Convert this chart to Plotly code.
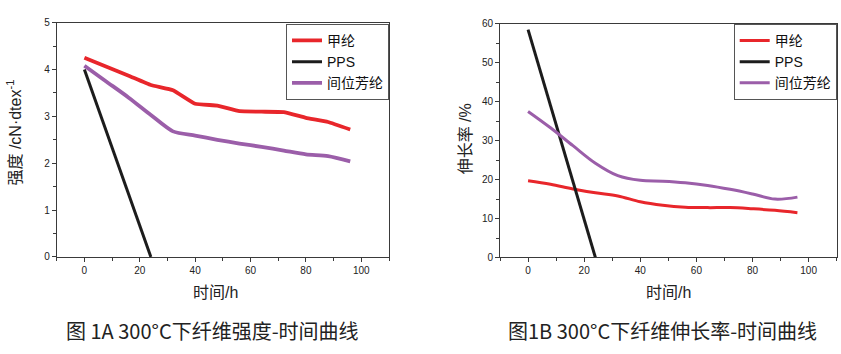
import plotly.graph_objects as go

W, H = 841, 354

hours = [0, 8, 16, 24, 32, 40, 48, 56, 64, 72, 80, 88, 96]
pps_hours = [0, 24]

names = ["甲纶", "PPS", "间位芳纶"]

# Figure 1A: strength (cN/dtex)
strength_nylon = [4.25, 4.06, 3.87, 3.67, 3.56, 3.27, 3.23, 3.11, 3.10, 3.09, 2.97, 2.88, 2.72]
strength_pps = [4.0, 0.0]
strength_aramid = [4.08, 3.74, 3.40, 3.03, 2.68, 2.59, 2.50, 2.42, 2.35, 2.27, 2.19, 2.15, 2.04]

# Figure 1B: elongation (%)
elong_nylon = [19.7, 18.8, 17.6, 16.6, 15.8, 14.3, 13.4, 12.9, 12.8, 12.8, 12.5, 12.1, 11.5]
elong_pps = [58.5, 0.0]
elong_aramid = [37.5, 33.3, 28.7, 24.2, 21.0, 19.8, 19.6, 19.2, 18.5, 17.5, 16.3, 15.0, 15.5]

RED = "#e8262b"
BLACK = "#1c1c1c"
PURPLE = "#9b5ea9"

fig = go.Figure()

def add(x, y, name, color, xa, ya, legend, width, shape="linear", smoothing=1.0):
    fig.add_trace(go.Scatter(
        x=x, y=y, name=name, mode="lines",
        line=dict(color=color, width=width, shape=shape, smoothing=smoothing),
        xaxis=xa, yaxis=ya, legend=legend,
    ))

add(hours, strength_nylon, names[0], RED, "x", "y", "legend", 3.8, "spline", 0.3)
add(pps_hours, strength_pps, names[1], BLACK, "x", "y", "legend", 3.0)
add(hours, strength_aramid, names[2], PURPLE, "x", "y", "legend", 3.8, "spline", 0.7)

add(hours, elong_nylon, names[0], RED, "x2", "y2", "legend2", 3.0, "spline", 1.0)
add(pps_hours, elong_pps, names[1], BLACK, "x2", "y2", "legend2", 3.0)
add(hours, elong_aramid, names[2], PURPLE, "x2", "y2", "legend2", 3.0, "spline", 1.0)

def px_x(p):
    return p / W

def px_y(p):
    return 1 - p / H

axis_common = dict(
    showline=True, mirror=True, linecolor="#3a3a3a", linewidth=1,
    ticks="outside", ticklen=4, tickcolor="#3a3a3a", tickwidth=1,
    showgrid=False, zeroline=False,
    tickfont=dict(family="Liberation Sans, Arial", size=10, color="#222"),
)

LAT_CJK = "Liberation Sans, Noto Sans CJK SC"
legend_common = dict(xanchor="right", yanchor="top",
                     bordercolor="#555", borderwidth=1, bgcolor="white",
                     font=dict(family=LAT_CJK, size=14, color="#111"),
                     tracegroupgap=0, itemwidth=30)

fig.update_layout(
    width=W, height=H,
    margin=dict(l=0, r=0, t=0, b=0),
    paper_bgcolor="white", plot_bgcolor="white",
    xaxis=dict(domain=[px_x(56.7), px_x(389)], range=[-10, 110], dtick=20,
               minor=dict(dtick=10, ticks="outside", ticklen=3, tickcolor="#3a3a3a"),
               anchor="y", **axis_common),
    yaxis=dict(domain=[px_y(259.7), px_y(17.3)], range=[0, 5], dtick=1,
               minor=dict(dtick=0.5, ticks="outside", ticklen=3, tickcolor="#3a3a3a"),
               anchor="x", **axis_common),
    xaxis2=dict(domain=[px_x(500), px_x(836.7)], range=[-10, 110], dtick=20,
                minor=dict(dtick=10, ticks="outside", ticklen=3, tickcolor="#3a3a3a"),
                anchor="y2", **axis_common),
    yaxis2=dict(domain=[px_y(260.3), px_y(18.4)], range=[0, 60], dtick=10,
                minor=dict(dtick=5, ticks="outside", ticklen=3, tickcolor="#3a3a3a"),
                anchor="x2", **axis_common),
    showlegend=True,
    legend=dict(x=px_x(389), y=px_y(18.5), **legend_common),
    legend2=dict(x=px_x(836.7), y=px_y(18.5), **legend_common),
)

ann_font = dict(family=LAT_CJK, size=16, color="#222")
cap_font = dict(family="Noto Sans CJK SC", size=20, color="#222")

annotations = [
    dict(text="时间/h", x=px_x(215), y=px_y(297), font=ann_font),
    dict(text="时间/h", x=px_x(668), y=px_y(297), font=ann_font),
    dict(text="强度 /cN·dtex<sup>-1</sup>", x=px_x(14), y=px_y(131), textangle=-90, font=ann_font),
    dict(text="伸长率 /%", x=px_x(465), y=px_y(138), textangle=-90, font=ann_font),
    dict(text="图 1A 300°C下纤维强度-时间曲线", x=px_x(212), y=px_y(336), font=cap_font),
    dict(text="图1B 300°C下纤维伸长率-时间曲线", x=px_x(662), y=px_y(336), font=cap_font),
]
for a in annotations:
    a.update(xref="paper", yref="paper", showarrow=False, xanchor="center", yanchor="middle")
fig.update_layout(annotations=annotations)

fig.write_html("out.html")
